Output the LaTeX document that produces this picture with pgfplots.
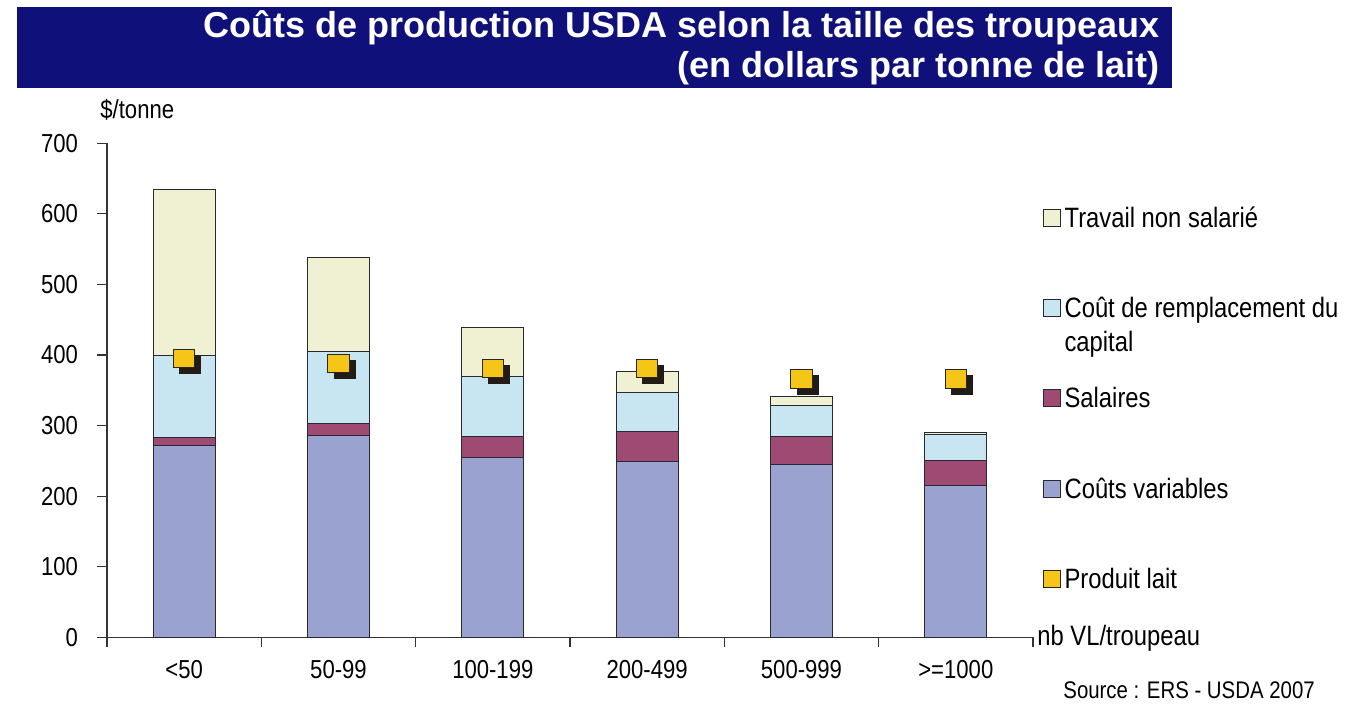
\documentclass[border=0pt]{standalone}
\usepackage{fontspec}
\setmainfont[FakeStretch=0.85]{Liberation Sans}
\newfontfamily\titlefont{Liberation Sans}
\usepackage{pgfplots}
\pgfplotsset{compat=1.18}
\definecolor{banner}{RGB}{16,16,122}
\definecolor{cvar}{RGB}{154,163,208}
\definecolor{csal}{RGB}{158,74,114}
\definecolor{ccap}{RGB}{200,230,242}
\definecolor{ctrav}{RGB}{240,240,210}
\definecolor{clait}{RGB}{245,197,24}
\definecolor{cshadow}{RGB}{35,28,22}
\definecolor{barline}{RGB}{40,40,50}
\newcommand{\tfont}{\fontsize{13}{15.6}\selectfont}
\newcommand{\lfont}{\fontsize{14}{17}\selectfont}
\newcommand{\lent}[1]{\parbox[t]{150pt}{\raggedright#1}}
\begin{document}
\begin{tikzpicture}[x=1pt,y=1pt]
\useasboundingbox (-53.5,-43.85) rectangle (626.5,318.65);
\fill[banner] (-45,274.65) rectangle (532.5,315.15);
\node[anchor=base east, text=white, inner sep=0pt, font=\titlefont\fontsize{18}{20}\selectfont\bfseries] at (526.5,300.15) {Coûts de production USDA selon la taille des troupeaux};
\node[anchor=base east, text=white, inner sep=0pt, font=\titlefont\fontsize{18}{20}\selectfont\bfseries] at (526.5,280.15) {(en dollars par tonne de lait)};
\begin{axis}[
  at={(0,0)}, anchor=south west,
  width=463pt, height=247pt, scale only axis,
  xmin=-0.5, xmax=5.5, ymin=0, ymax=700,
  ybar stacked, bar width=0.4,
  axis x line*=bottom, axis y line*=left,
  axis line style={-, line width=0.6pt, draw=black!80},
  tick align=outside, major tick length=5pt,
  tick style={line width=0.6pt, draw=black!80},
  ytick={0,100,...,700},
  xtick={-0.5,0.5,...,5.5},
  x tick label as interval,
  xticklabels={<50,50-99,100-199,200-499,500-999,>=1000},
  ticklabel style={font=\tfont},
  /pgf/number format/assume math mode=true,
  xticklabel style={yshift=-3pt},
  yticklabel style={xshift=-6pt},
  legend image code/.code={\draw[#1, line width=0.5pt] (0pt,0.5pt) rectangle (8.5pt,9pt);},
  reverse legend,
  legend style={at={(rel axis cs:1,1)}, anchor=north west, xshift=5pt, yshift=-31.4pt,
    draw=none, fill=none, inner sep=0pt, row sep=33.5pt, column sep=1.6pt,
    font=\lfont, nodes={inner sep=0pt, anchor=base west}},
  legend cell align=left,
  clip=false,
]
\addlegendimage{fill=clait, draw=black!85}
\addlegendentry{\lent{Produit lait}}
\addplot[fill=cvar, draw=barline, line width=0.5pt] coordinates {(0,272) (1,286) (2,255) (3,249) (4,245) (5,215)};
\addlegendentry{\lent{Coûts variables}}
\addplot[fill=csal, draw=barline, line width=0.5pt] coordinates {(0,11) (1,17) (2,30) (3,42) (4,40) (5,36)};
\addlegendentry{\lent{Salaires}}
\addplot[fill=ccap, draw=barline, line width=0.5pt] coordinates {(0,117) (1,102) (2,85) (3,56) (4,44) (5,36)};
\addlegendentry{\lent{Coût de remplacement du\\capital}}
\addplot[fill=ctrav, draw=barline, line width=0.5pt] coordinates {(0,234) (1,133) (2,69) (3,30) (4,12) (5,3.5)};
\addlegendentry{\lent{Travail non salarié}}
\node[anchor=base west, font=\tfont, inner sep=0pt] at (rel axis cs:0,1) [xshift=-3.5pt, yshift=12.65pt] {\$/tonne};
\node[anchor=base west, font=\lfont, inner sep=0pt] at (rel axis cs:1,0) [xshift=2pt, yshift=-3.85pt] {nb VL/troupeau};
\node[anchor=base west, font=\fontsize{12}{14}\selectfont, inner sep=0pt] at (rel axis cs:0,0) [xshift=478pt, yshift=-30.35pt] {Source : ERS - USDA 2007};
\end{axis}
\begin{axis}[
  at={(0,0)}, anchor=south west,
  width=463pt, height=247pt, scale only axis,
  xmin=-0.5, xmax=5.5, ymin=0, ymax=700,
  hide axis, clip=false,
]
\addplot[only marks, mark=square*, mark size=4.6pt, draw=cshadow, fill=cshadow,
  mark options={xshift=3pt, yshift=-3pt, xscale=1.15}]
  coordinates {(0,395) (1,388) (2,381) (3,381) (4,366) (5,366)};
\addplot[only marks, mark=square*, mark size=4.6pt, draw=black!85, fill=clait,
  mark options={xscale=1.15, line width=0.5pt}]
  coordinates {(0,395) (1,388) (2,381) (3,381) (4,366) (5,366)};
\end{axis}
\end{tikzpicture}
\end{document}
